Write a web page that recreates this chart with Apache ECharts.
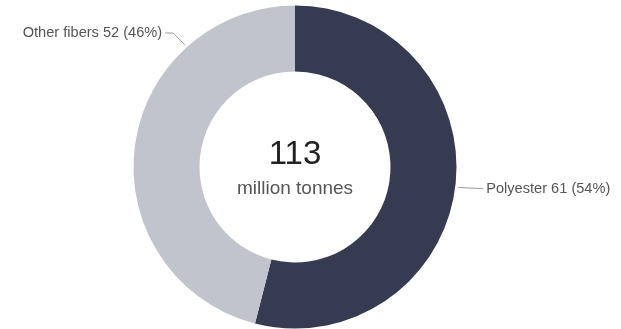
<!DOCTYPE html>
<html><head><meta charset="utf-8">
<script src="https://cdn.jsdelivr.net/npm/echarts@6/dist/echarts.min.js"></script>
<style>html,body{margin:0;padding:0;background:#fff}#c{width:621px;height:329px}</style>
</head><body><div id="c"></div>
<script>
var categories = ['Polyester', 'Other fibers'];
var values = [61, 52];
var colors = ['#363b51', '#c1c4cc'];
var totalText = '113';
var unitText = 'million tonnes';

var CX = 295, CY = 167, R_IN = 95.5, R_OUT = 161.5;

var chart = echarts.init(document.getElementById('c'), null, {renderer: 'canvas'});
chart.setOption({
  animation: false,
  graphic: [
    {type: 'text', x: CX, y: 155, style: {text: totalText, fontFamily: 'Liberation Sans, Arial', fontSize: 33, fill: '#222', textAlign: 'center', textVerticalAlign: 'middle'}},
    {type: 'text', x: CX, y: 189, style: {text: unitText, fontFamily: 'Liberation Sans, Arial', fontSize: 19, fill: '#555', textAlign: 'center', textVerticalAlign: 'middle'}}
  ],
  series: [{
    type: 'pie',
    center: [CX, CY],
    radius: [R_IN, R_OUT],
    startAngle: 90,
    clockwise: true,
    percentPrecision: 0,
    emphasis: {disabled: true},
    data: categories.map(function (n, i) { return {name: n, value: values[i], itemStyle: {color: colors[i]}}; }),
    label: {
      show: true, position: 'outside', formatter: '{b} {c} ({d}%)',
      overflow: 'none', width: 300,
      fontFamily: 'Liberation Sans, Arial', fontSize: 14.6, color: '#555'
    },
    labelLine: {show: true, lineStyle: {color: '#999', width: 1}},
    labelLayout: function (p) {
      if (p.dataIndex === 0) {
        var a = (90 - 0.54 * 180) * Math.PI / 180;
        var sx = CX + (R_OUT + 3) * Math.cos(a), sy = CY - (R_OUT + 3) * Math.sin(a);
        var ex = sx + 25;
        return {x: ex + 3, y: sy + 1, align: 'left', verticalAlign: 'middle',
          labelLinePoints: [[sx, sy], [sx + 2, sy], [ex, sy + 1]]};
      } else {
        var ang = 132 * Math.PI / 180;
        var sx2 = CX + (R_OUT + 3) * Math.cos(ang), sy2 = CY - (R_OUT + 3) * Math.sin(ang);
        var my = 33, mx = sx2 - (sy2 - my);
        return {x: mx - 11, y: my, align: 'right', verticalAlign: 'middle',
          labelLinePoints: [[sx2, sy2], [mx, my], [mx - 8, my]]};
      }
    }
  }]
});
</script></body></html>
